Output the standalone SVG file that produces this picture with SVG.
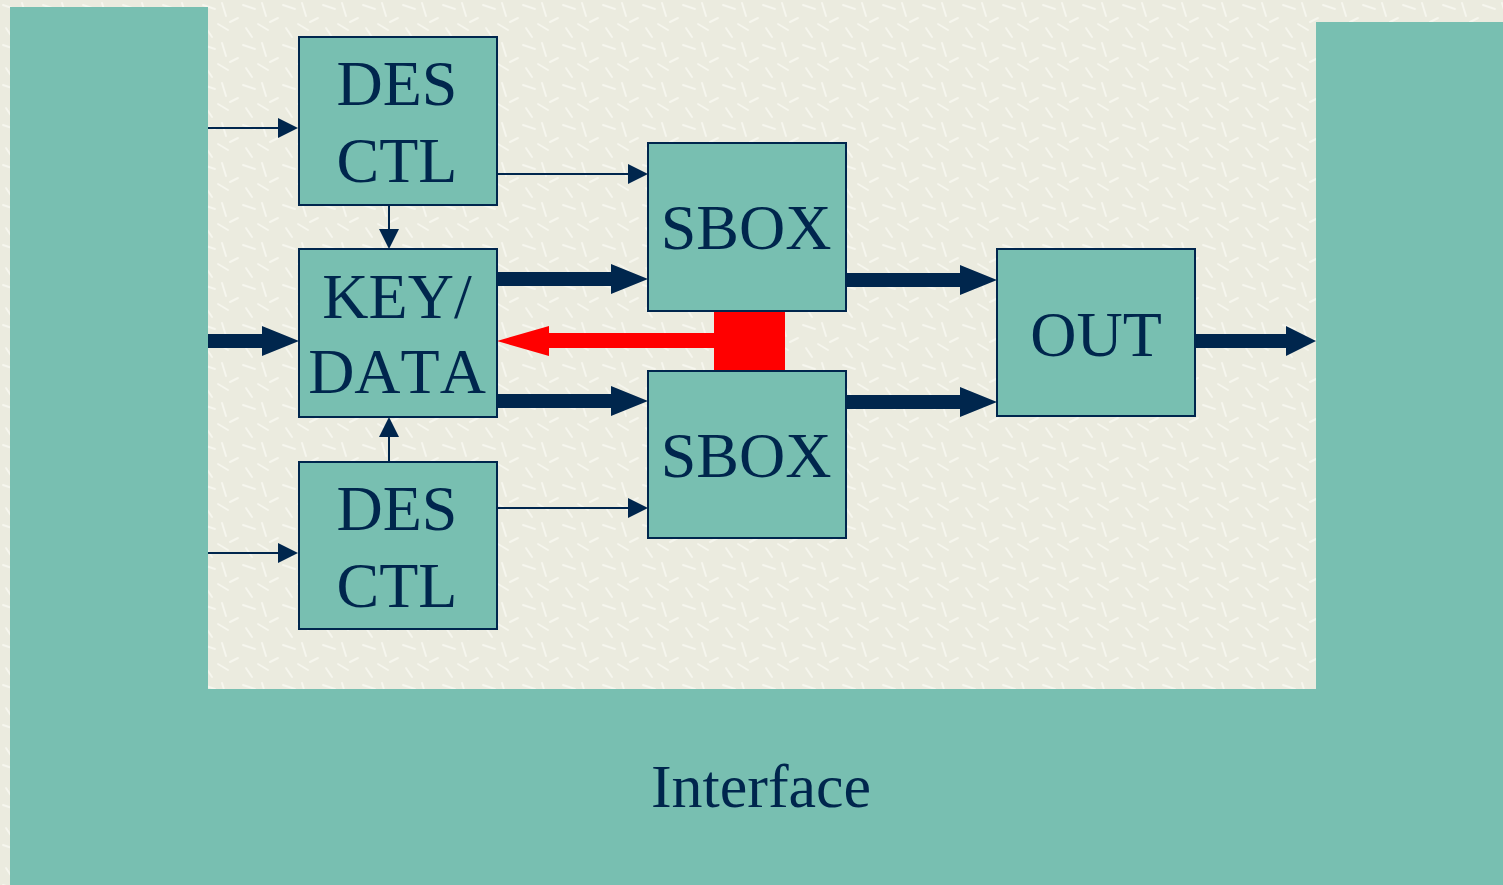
<svg xmlns="http://www.w3.org/2000/svg" width="1503" height="885" viewBox="0 0 1503 885">
<style>
.box{fill:#78BFB1;stroke:#00264D;stroke-width:2}
.lbl{font-family:"Liberation Serif","Times New Roman",serif;font-size:64px;fill:#00264D;text-anchor:middle;font-kerning:none}
.thin{stroke:#00264D;stroke-width:2;fill:none}
.head{fill:#00264D}
</style>
<defs>
<pattern id="tex" width="40" height="40" patternUnits="userSpaceOnUse">
<rect width="40" height="40" fill="#EBEBDF"/>
<path d="M3,5 L15,9 M22,3 L26,16 M30,22 L38,18 M6,28 L12,37 M18,24 L28,30" stroke="#F6F6EE" stroke-width="2" stroke-linecap="round"/>
</pattern>
</defs>
<rect width="1503" height="885" fill="url(#tex)"/>
<path d="M10,7 H208 V689 H1316 V22 H1503 V885 H10 Z" fill="#78BFB1"/>

<g id="connectors">
  <line class="thin" x1="208" y1="128" x2="280" y2="128"/>
  <polygon class="head" points="278,118 298,128 278,138"/>
  <line class="thin" x1="208" y1="553" x2="280" y2="553"/>
  <polygon class="head" points="278,543 298,553 278,563"/>
  <line class="thin" x1="497" y1="174" x2="630" y2="174"/>
  <polygon class="head" points="628,164 648,174 628,184"/>
  <line class="thin" x1="497" y1="508" x2="630" y2="508"/>
  <polygon class="head" points="628,498 648,508 628,518"/>
  <line class="thin" x1="389" y1="205" x2="389" y2="232"/>
  <polygon class="head" points="379,229 389,249 399,229"/>
  <line class="thin" x1="389" y1="462" x2="389" y2="435"/>
  <polygon class="head" points="379,437 389,417 399,437"/>
  <polygon class="head" points="208,334 262,334 262,326 299,341 262,356 262,348 208,348"/>
  <polygon class="head" points="497,272 611,272 611,264 648,279 611,294 611,286 497,286"/>
  <polygon class="head" points="497,394 611,394 611,386 648,401 611,416 611,408 497,408"/>
  <polygon class="head" points="846,273 960,273 960,265 997,280 960,295 960,287 846,287"/>
  <polygon class="head" points="846,395 960,395 960,387 997,402 960,417 960,409 846,409"/>
  <polygon class="head" points="1195,334 1286,334 1286,326 1316,341 1286,356 1286,348 1195,348"/>
  <rect x="714" y="311" width="71" height="60" fill="#FF0000"/>
  <polygon fill="#FF0000" points="714,333 549,333 549,326 497,341 549,356 549,348 714,348"/>
</g>

<g id="des-top">
  <rect class="box" x="299" y="37" width="198" height="168"/>
  <text class="lbl" x="397" y="105">DES</text>
  <text class="lbl" x="397" y="182">CTL</text>
</g>
<g id="key-data">
  <rect class="box" x="299" y="249" width="198" height="168"/>
  <text class="lbl" x="397" y="318">KEY/</text>
  <text class="lbl" x="397" y="393">DATA</text>
</g>
<g id="des-bottom">
  <rect class="box" x="299" y="462" width="198" height="167"/>
  <text class="lbl" x="397" y="530">DES</text>
  <text class="lbl" x="397" y="607">CTL</text>
</g>
<g id="sbox-top">
  <rect class="box" x="648" y="143" width="198" height="168"/>
  <text class="lbl" x="746" y="249">SBOX</text>
</g>
<g id="sbox-bottom">
  <rect class="box" x="648" y="371" width="198" height="167"/>
  <text class="lbl" x="746" y="477">SBOX</text>
</g>
<g id="out">
  <rect class="box" x="997" y="249" width="198" height="167"/>
  <text class="lbl" x="1096" y="356">OUT</text>
</g>
<g id="caption">
  <text class="lbl" x="761" y="807" style="font-size:62px">Interface</text>
</g>
</svg>
